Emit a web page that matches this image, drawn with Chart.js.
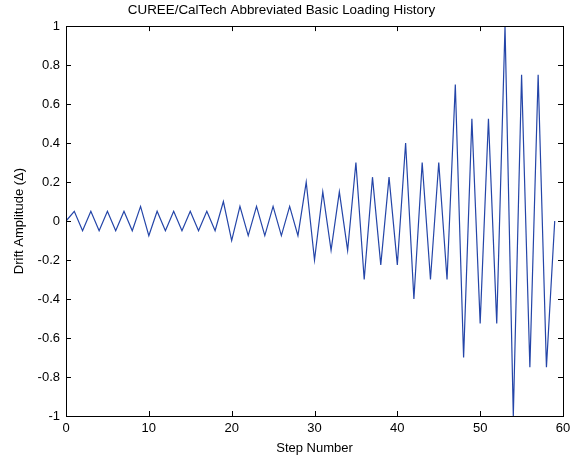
<!DOCTYPE html>
<html>
<head>
<meta charset="utf-8">
<script src="https://cdn.jsdelivr.net/npm/chart.js@4/dist/chart.umd.min.js"></script>
<style>
  html, body { margin: 0; padding: 0; background: #fff; }
  #wrap { width: 579px; height: 459px; }
</style>
</head>
<body>
<div id="wrap"><canvas id="chartLoading" width="579" height="459"></canvas></div>
<script>
// datos: pasos 0..59 y amplitud de deriva
const pasos = [];
for (let i = 0; i < 60; i++) pasos.push(i);

const amplitud = [
  0, 0.05, -0.05, 0.05, -0.05, 0.05, -0.05, 0.05, -0.05, 0.075,
  -0.075, 0.05, -0.05, 0.05, -0.05, 0.05, -0.05, 0.05, -0.05, 0.1,
  -0.1, 0.075, -0.075, 0.075, -0.075, 0.075, -0.075, 0.075, -0.075, 0.2,
  -0.2, 0.15, -0.15, 0.15, -0.15, 0.3, -0.3, 0.225, -0.225, 0.225,
  -0.225, 0.4, -0.4, 0.3, -0.3, 0.3, -0.3, 0.7, -0.7, 0.525,
  -0.525, 0.525, -0.525, 1.0, -1.0, 0.75, -0.75, 0.75, -0.75, 0
];

const ticksX = [0, 10, 20, 30, 40, 50, 60];
const ticksY = [-1, -0.8, -0.6, -0.4, -0.2, 0, 0.2, 0.4, 0.6, 0.8, 1];

const fuente = "'Liberation Sans', Arial, Helvetica, sans-serif";

// caja y marcas hacia dentro, estilo MATLAB
const cajaMatlab = {
  id: 'cajaMatlab',
  afterDatasetsDraw(chart) {
    const { ctx, chartArea: a, scales } = chart;
    const len = 5;
    ctx.save();
    ctx.strokeStyle = '#000';
    ctx.lineWidth = 1;
    ctx.beginPath();
    ticksX.forEach(v => {
      const x = Math.round(scales.x.getPixelForValue(v)) + 0.5;
      ctx.moveTo(x, a.bottom); ctx.lineTo(x, a.bottom - len);
      ctx.moveTo(x, a.top); ctx.lineTo(x, a.top + len);
    });
    ticksY.forEach(v => {
      const y = Math.round(scales.y.getPixelForValue(v)) + 0.5;
      ctx.moveTo(a.left, y); ctx.lineTo(a.left + len, y);
      ctx.moveTo(a.right, y); ctx.lineTo(a.right - len, y);
    });
    ctx.stroke();
    ctx.strokeRect(Math.round(a.left) + 0.5, Math.round(a.top) + 0.5,
      Math.round(a.right - a.left), Math.round(a.bottom - a.top));
    ctx.restore();
  }
};

const canvas = document.getElementById('chartLoading');
window._chartLoading = new Chart(canvas, {
  type: 'line',
  data: {
    datasets: [{
      data: pasos.map((p, i) => ({ x: p, y: amplitud[i] })),
      borderColor: '#2445a8',
      borderWidth: 1.2,
      pointRadius: 0,
      tension: 0,
      fill: false
    }]
  },
  options: {
    responsive: false,
    animation: false,
    devicePixelRatio: 1,
    layout: { padding: { left: 0, right: 16, top: 0, bottom: 0 } },
    plugins: {
      legend: { display: false },
      tooltip: { enabled: false },
      title: {
        display: true,
        text: 'CUREE/CalTech Abbreviated Basic Loading History',
        color: '#000',
        font: { family: fuente, size: 13.4, weight: 'normal' },
        padding: { top: 2, bottom: 8 }
      }
    },
    scales: {
      x: {
        type: 'linear',
        min: 0,
        max: 60,
        afterBuildTicks: s => { s.ticks = ticksX.map(v => ({ value: v })); },
        afterFit: s => { s.height = 43; },
        grid: { display: false, drawTicks: false },
        border: { display: false },
        ticks: {
          color: '#000',
          padding: 5,
          maxRotation: 0,
          font: { family: fuente, size: 13 }
        },
        title: {
          display: true,
          text: 'Step Number',
          color: '#000',
          font: { family: fuente, size: 13 },
          padding: { top: 0, bottom: 3 }
        }
      },
      y: {
        min: -1,
        max: 1,
        afterBuildTicks: s => { s.ticks = ticksY.map(v => ({ value: v })); },
        afterFit: s => { s.width = 66; },
        grid: { display: false, drawTicks: false },
        border: { display: false },
        ticks: {
          color: '#000',
          padding: 6,
          font: { family: fuente, size: 13 },
          callback: v => String(Math.round(v * 10) / 10)
        },
        title: {
          display: true,
          text: 'Drift Amplitude (Δ)',
          color: '#000',
          font: { family: fuente, size: 13 },
          padding: { top: 12, bottom: 0 }
        }
      }
    }
  },
  plugins: [cajaMatlab]
});
</script>
</body>
</html>
